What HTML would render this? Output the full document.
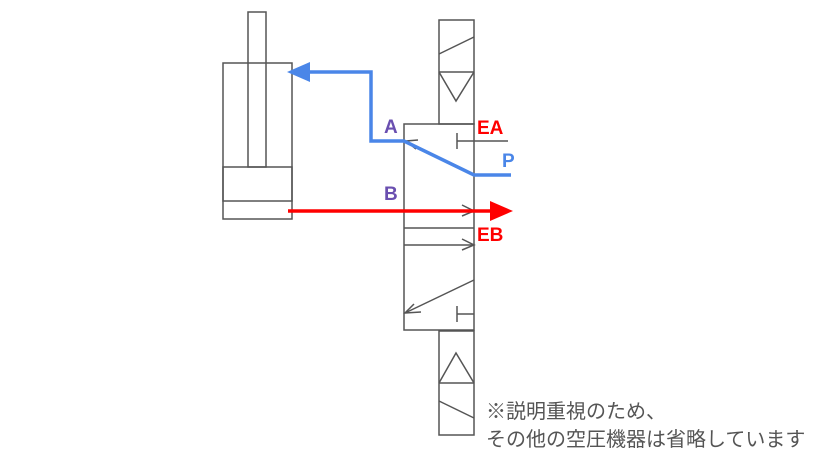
<!DOCTYPE html>
<html><head><meta charset="utf-8"><style>
body{margin:0;background:#fff;width:828px;height:465px;overflow:hidden}
svg text{font-family:"Liberation Sans","Noto Sans CJK JP",sans-serif}
</style></head><body>
<svg width="828" height="465" viewBox="0 0 828 465" xmlns="http://www.w3.org/2000/svg">
<g fill="none" stroke="#555" stroke-width="1.5">
<rect x="223" y="63" width="69" height="156"/>
<rect x="248" y="12" width="18" height="155"/>
<rect x="223" y="167" width="69" height="34"/>
<rect x="439" y="20" width="35" height="104"/>
<line x1="439" y1="72" x2="474" y2="72"/>
<line x1="439" y1="54" x2="474" y2="37"/>
<polyline points="439,72 456,101 474,72"/>
<rect x="404" y="124" width="70" height="206"/>
<line x1="457" y1="141" x2="508" y2="141"/>
<line x1="457" y1="133" x2="457" y2="149"/>
<line x1="406" y1="141" x2="474" y2="175"/>
<polyline points="418,140 406,141 416,149"/>
<line x1="404" y1="211" x2="474" y2="211"/>
<polyline points="462,205 474,211 462,216"/>
<line x1="404" y1="228" x2="474" y2="228"/>
<line x1="404" y1="245" x2="474" y2="245"/>
<polyline points="462,239 474,245 462,250"/>
<line x1="474" y1="280" x2="405" y2="313"/>
<polyline points="414,304 405,313 421,312"/>
<line x1="457" y1="314" x2="474" y2="314"/>
<line x1="457" y1="306" x2="457" y2="322"/>
<rect x="439" y="331" width="35" height="104"/>
<line x1="439" y1="383" x2="474" y2="383"/>
<polyline points="439,383 456,353 474,383"/>
<line x1="439" y1="401" x2="474" y2="418"/>
</g>
<polyline points="305,72 371,72 371,141 404,141 474,175 511,175" fill="none" stroke="#4a86e8" stroke-width="3.5"/>
<polygon points="287,72 310,62 310,82" fill="#4a86e8"/>
<line x1="288" y1="211" x2="496" y2="211" stroke="#f00" stroke-width="3.5"/>
<polygon points="513,211 490,201 490,221" fill="#f00"/>
<g font-size="19" font-weight="bold">
<text x="384" y="133" fill="#6a4fb0">A</text>
<text x="384" y="200" fill="#6a4fb0">B</text>
<text x="477" y="134" fill="#f00">EA</text>
<text x="502" y="167" fill="#4a86e8">P</text>
<text x="477" y="241" fill="#f00">EB</text>
</g>
<g font-size="20" fill="#555">
<text x="486" y="418">※説明重視のため、</text>
<text x="486" y="446">その他の空圧機器は省略しています</text>
</g>
</svg>
</body></html>
